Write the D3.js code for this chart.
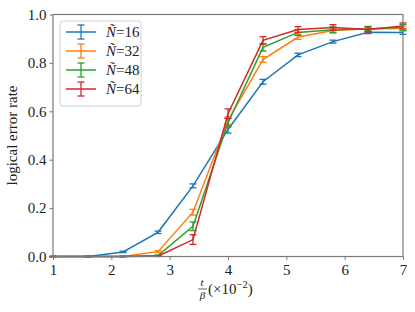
<!DOCTYPE html>
<html>
<head>
<meta charset="utf-8">
<script src="https://cdn.jsdelivr.net/npm/d3@7"></script>
<style>
  body { margin: 0; background: #fff; }
  text { font-family: "Liberation Serif", "DejaVu Serif", serif; }
</style>
</head>
<body>
<svg id="chart" width="415" height="312"></svg>
<script>
// t/beta values (x10^-2)
var xs = [1.0, 1.6, 2.2, 2.8, 3.4, 4.0, 4.6, 5.2, 5.8, 6.4, 7.0];
var labels = ["16", "32", "48", "64"];
var colors = ["#1f77b4", "#ff7f0e", "#2ca02c", "#d62728"];

var rate16 = [0, 0, 0.019, 0.10, 0.292, 0.525, 0.722, 0.833, 0.888, 0.927, 0.926];
var rate32 = [0, 0, 0, 0.02, 0.183, 0.562, 0.814, 0.907, 0.934, 0.941, 0.942];
var rate48 = [0, 0, 0, 0.004, 0.125, 0.553, 0.864, 0.926, 0.937, 0.94, 0.947];
var rate64 = [0, 0, 0, 0.001, 0.07, 0.59, 0.893, 0.938, 0.946, 0.938, 0.953];

var err16 = [0, 0, 0.003, 0.005, 0.008, 0.015, 0.01, 0.007, 0.006, 0.006, 0.008];
var err32 = [0, 0, 0, 0.004, 0.012, 0.015, 0.012, 0.01, 0.01, 0.01, 0.01];
var err48 = [0, 0, 0, 0.002, 0.018, 0.018, 0.015, 0.012, 0.012, 0.01, 0.012];
var err64 = [0, 0, 0, 0.001, 0.02, 0.02, 0.015, 0.012, 0.012, 0.01, 0.012];

var xTicks = [1, 2, 3, 4, 5, 6, 7];
var yTicks = [0, 0.2, 0.4, 0.6, 0.8, 1.0];

var series = [
    {n: labels[0], v: rate16, e: err16},
    {n: labels[1], v: rate32, e: err32},
    {n: labels[2], v: rate48, e: err48},
    {n: labels[3], v: rate64, e: err64}
];

var margin = {top: 14.5, right: 12, bottom: 55.5, left: 53};
var width = 415 - margin.left - margin.right;
var height = 312 - margin.top - margin.bottom;

var x = d3.scaleLinear().domain([1, 7]).range([0, width]);
var y = d3.scaleLinear().domain([0, 1]).range([height, 0]);

var svg = d3.select("#chart");
var chart = svg.append("g")
    .attr("transform", "translate(" + margin.left + "," + margin.top + ")");

var line = d3.line()
    .x(function (d) { return x(d[0]); })
    .y(function (d) { return y(d[1]); });

var cap = 3.5;
series.forEach(function (s, k) {
    var c = colors[k];
    var pts = xs.map(function (xv, i) { return [xv, s.v[i], s.e[i]]; });
    chart.append("path")
        .datum(pts)
        .attr("fill", "none")
        .attr("stroke", c)
        .attr("stroke-width", 1.5)
        .attr("d", line);
    var eb = chart.append("g").attr("stroke", c).attr("stroke-width", 1.3);
    pts.forEach(function (p) {
        var px = x(p[0]);
        eb.append("line").attr("x1", px).attr("x2", px)
            .attr("y1", y(p[1] - p[2])).attr("y2", y(p[1] + p[2]));
        [p[1] - p[2], p[1] + p[2]].forEach(function (yv) {
            eb.append("line").attr("x1", px - cap).attr("x2", px + cap)
                .attr("y1", y(yv)).attr("y2", y(yv));
        });
    });
});

// frame
chart.append("rect")
    .attr("width", width).attr("height", height)
    .attr("fill", "none").attr("stroke", "#7a7a7a").attr("stroke-width", 1.2);

var xAxis = d3.axisBottom(x).tickValues(xTicks).tickFormat(d3.format("d")).tickSize(3.5).tickPadding(4);
var yAxis = d3.axisLeft(y).tickValues(yTicks).tickFormat(d3.format(".1f")).tickSize(3.5).tickPadding(3);

var gx = chart.append("g").attr("transform", "translate(0," + height + ")").call(xAxis);
var gy = chart.append("g").call(yAxis);
[gx, gy].forEach(function (g) {
    g.select(".domain").remove();
    g.selectAll(".tick line").attr("stroke", "#7a7a7a");
    g.selectAll(".tick text")
        .attr("font-family", "Liberation Serif, DejaVu Serif, serif")
        .attr("font-size", 15).attr("fill", "#222");
});

// y label
svg.append("text")
    .attr("transform", "translate(17," + (margin.top + height / 2) + ") rotate(-90)")
    .attr("text-anchor", "middle")
    .attr("font-size", 15).attr("fill", "#222")
    .text("logical error rate");

// x label: t/beta (x10^-2)
var xl = svg.append("g").attr("transform", "translate(" + (margin.left + width / 2) + ",0)");
xl.append("text").attr("x", -26).attr("y", 286).attr("text-anchor", "middle")
    .attr("font-size", 11).attr("font-style", "italic").attr("fill", "#222").text("t");
xl.append("line").attr("x1", -30).attr("x2", -21).attr("y1", 289).attr("y2", 289)
    .attr("stroke", "#222").attr("stroke-width", 0.7);
xl.append("text").attr("x", -25.5).attr("y", 299).attr("text-anchor", "middle")
    .attr("font-size", 11).attr("font-style", "italic").attr("fill", "#222").text("β");
var xt = xl.append("text").attr("x", -20).attr("y", 294)
    .attr("font-size", 15).attr("fill", "#222");
xt.append("tspan").text("(×10");
xt.append("tspan").attr("dy", -6).attr("font-size", 10.5).text("−2");
xt.append("tspan").attr("dy", 6).text(")");

// legend
var leg = svg.append("g").attr("transform", "translate(60,21)");
leg.append("rect").attr("width", 81).attr("height", 85).attr("rx", 3)
    .attr("fill", "#fff").attr("fill-opacity", 0.8)
    .attr("stroke", "#d0d0d0").attr("stroke-width", 1);
series.forEach(function (s, k) {
    var yy = 11 + k * 19;
    var g = leg.append("g").attr("stroke", colors[k]);
    g.append("line").attr("x1", 6).attr("x2", 36).attr("y1", yy).attr("y2", yy).attr("stroke-width", 1.5);
    g.append("line").attr("x1", 21).attr("x2", 21).attr("y1", yy - 7).attr("y2", yy + 7).attr("stroke-width", 1.3);
    g.append("line").attr("x1", 17.5).attr("x2", 24.5).attr("y1", yy - 7).attr("y2", yy - 7).attr("stroke-width", 1.3);
    g.append("line").attr("x1", 17.5).attr("x2", 24.5).attr("y1", yy + 7).attr("y2", yy + 7).attr("stroke-width", 1.3);
    var t = leg.append("text").attr("x", 46).attr("y", yy + 5).attr("font-size", 15).attr("fill", "#222");
    t.append("tspan").attr("font-style", "italic").text("Ñ");
    t.append("tspan").text("=" + s.n);
});
</script>
</body>
</html>
